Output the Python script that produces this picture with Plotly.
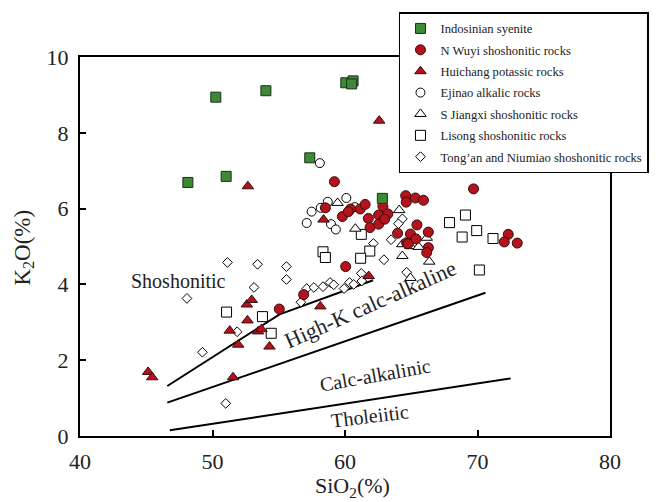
import plotly.graph_objects as go

# ---- data ----
indosinian_x = [48.14, 50.25, 51.03, 54.03, 57.34, 60.06, 60.61, 60.50, 62.82]
indosinian_y = [6.69, 8.94, 6.85, 9.11, 7.34, 9.32, 9.37, 9.29, 6.27]

nwuyi_x = [59.20, 69.70, 58.52, 59.80, 60.42, 61.15, 61.52, 60.25, 61.76, 61.89, 62.54, 62.86,
           63.23, 62.54, 62.99, 64.58, 64.62, 65.31, 65.92, 65.43, 63.97, 64.94, 66.29, 64.65,
           64.76, 65.36, 66.29, 66.17, 72.32, 72.02, 73.00, 60.05, 56.88, 55.04]
nwuyi_y = [6.71, 6.52, 6.02, 5.79, 5.99, 5.99, 6.11, 5.92, 5.74, 5.50, 5.83, 6.06,
           5.86, 5.59, 5.72, 6.34, 6.17, 6.28, 6.22, 5.57, 5.35, 5.33, 5.38, 5.10,
           5.07, 5.20, 4.97, 4.84, 5.32, 5.12, 5.09, 4.47, 3.73, 3.35]

huichang_x = [45.14, 45.45, 52.59, 52.96, 52.64, 51.30, 51.94, 53.44, 53.69, 54.30, 51.55,
              58.14, 58.38, 61.79, 52.67, 62.58]
huichang_y = [1.69, 1.55, 3.47, 3.59, 3.05, 2.78, 2.41, 2.76, 2.82, 2.36, 1.55,
              3.42, 5.71, 4.22, 6.59, 8.32]

ejinao_x = [58.10, 58.70, 60.10, 57.48, 57.11, 58.17, 58.94, 59.31, 60.74]
ejinao_y = [7.20, 6.18, 6.28, 5.92, 5.62, 6.02, 5.59, 5.45, 6.04]

sjiangxi_x = [59.44, 60.78, 64.09, 64.33, 64.94, 65.56, 66.17, 64.33, 66.36, 64.94]
sjiangxi_y = [6.15, 5.47, 5.96, 5.06, 5.01, 4.99, 5.23, 4.75, 4.60, 4.17]

lisong_x = [69.09, 67.89, 69.94, 68.84, 71.17, 70.14, 61.23, 58.34, 58.52, 61.87, 61.18,
            51.06, 53.77, 54.43]
lisong_y = [5.83, 5.63, 5.42, 5.25, 5.21, 4.38, 5.32, 4.86, 4.71, 4.88, 4.69,
            3.27, 3.15, 2.71]

tongan_x = [62.14, 63.48, 62.94, 64.33, 64.03, 55.58, 55.58, 57.11, 57.65, 58.34, 58.87,
            59.15, 59.93, 60.34, 61.23, 60.66, 61.27, 64.65, 51.13, 53.40, 53.13, 48.07,
            49.24, 51.86, 51.00, 56.67]
tongan_y = [5.08, 5.18, 4.65, 5.73, 5.60, 4.47, 4.13, 3.89, 3.92, 3.94, 4.05,
            3.99, 3.89, 4.05, 4.29, 4.00, 4.09, 4.32, 4.58, 4.53, 3.92, 3.63,
            2.21, 2.75, 0.86, 3.53]

# classification boundaries
shosh_x = [46.59, 55.06, 62.12]
shosh_y = [1.32, 3.21, 4.11]
highk_x = [46.59, 70.6]
highk_y = [0.88, 3.78]
calc_x = [46.78, 72.5]
calc_y = [0.15, 1.52]

SERIF = "Liberation Serif, Times New Roman, serif"
GREEN = "#3c8a35"
RED = "#b3131c"

L, R, T, B = 80, 36, 55, 66
W, H = 661, 502
PW, PH = W - L - R, H - T - B

def px(xp):
    return (xp - L) / PW

def py(yp):
    return (H - B - yp) / PH

fig = go.Figure()

for bx, by in [(shosh_x, shosh_y), (highk_x, highk_y), (calc_x, calc_y)]:
    fig.add_trace(go.Scatter(x=bx, y=by, mode="lines", line=dict(color="black", width=2),
                             showlegend=False, hoverinfo="skip"))

def add(name, xs, ys, symbol, size, fill, edge, rank, lw=1):
    fig.add_trace(go.Scatter(
        x=xs, y=ys, mode="markers", name=name, legendgroup=name, legendrank=rank,
        marker=dict(symbol=symbol, size=size, color=fill, line=dict(color=edge, width=lw))))

add("Tong’an and Niumiao shoshonitic rocks", tongan_x, tongan_y, "diamond", 7.5, "white", "black", 7)
add("Lisong shoshonitic rocks", lisong_x, lisong_y, "square", 10, "white", "black", 6)
add("S Jiangxi shoshonitic rocks", sjiangxi_x, sjiangxi_y, "triangle-up", 10, "white", "black", 5)
add("Ejinao alkalic rocks", ejinao_x, ejinao_y, "circle", 9, "white", "black", 4)
add("N Wuyi shoshonitic rocks", nwuyi_x, nwuyi_y, "circle", 10, RED, "#3a0a0a", 2)
add("Huichang potassic rocks", huichang_x, huichang_y, "triangle-up", 10, RED, "#3a0a0a", 3)
add("Indosinian syenite", indosinian_x, indosinian_y, "square", 10, GREEN, "#1e2e1a", 1)

labels = [
    ("Shoshonitic", 47.4, 4.09, 0, 20),
    ("High-K calc-alkaline", 61.9, 3.46, -24, 22),
    ("Calc-alkalinic", 62.3, 1.62, -10, 20),
    ("Tholeiitic", 61.9, 0.52, -7, 20),
]
for txt, lx, ly, ang, fs in labels:
    fig.add_annotation(x=lx, y=ly, text=txt, showarrow=False, textangle=ang,
                       xanchor="center", yanchor="middle",
                       font=dict(family=SERIF, size=fs, color="#222"))

fig.add_annotation(xref="paper", yref="paper", x=px(360), y=py(487),
                   xanchor="center", yanchor="middle",
                   text="SiO<sub>2</sub>(%)", showarrow=False,
                   font=dict(family=SERIF, size=22, color="#222"))
fig.add_annotation(xref="paper", yref="paper", x=px(22), y=py(247),
                   xanchor="center", yanchor="middle",
                   text="K<sub>2</sub>O(%)", showarrow=False, textangle=-90,
                   font=dict(family=SERIF, size=23, color="#222"))

axis_common = dict(showgrid=False, zeroline=False, showline=True, linecolor="black",
                   linewidth=2, mirror=True, ticks="inside", ticklen=6, tickwidth=1.5,
                   tickcolor="black", tickfont=dict(family=SERIF, size=22, color="#222"))
fig.update_xaxes(range=[40, 80], tickvals=[40, 50, 60, 70, 80], ticklabelstandoff=5, **axis_common)
fig.update_yaxes(range=[0, 10], tickvals=[0, 2, 4, 6, 8, 10], ticklabelstandoff=5, **axis_common)

fig.update_layout(
    width=W, height=H, autosize=False,
    margin=dict(l=L, r=R, t=T, b=B),
    plot_bgcolor="white", paper_bgcolor="white",
    legend=dict(x=px(408), y=py(10), xanchor="left", yanchor="top",
                bgcolor="white", bordercolor="black", borderwidth=1.5,
                font=dict(family=SERIF, size=12.6, color="#222"), tracegroupgap=2),
)

fig.write_html("out.html")
